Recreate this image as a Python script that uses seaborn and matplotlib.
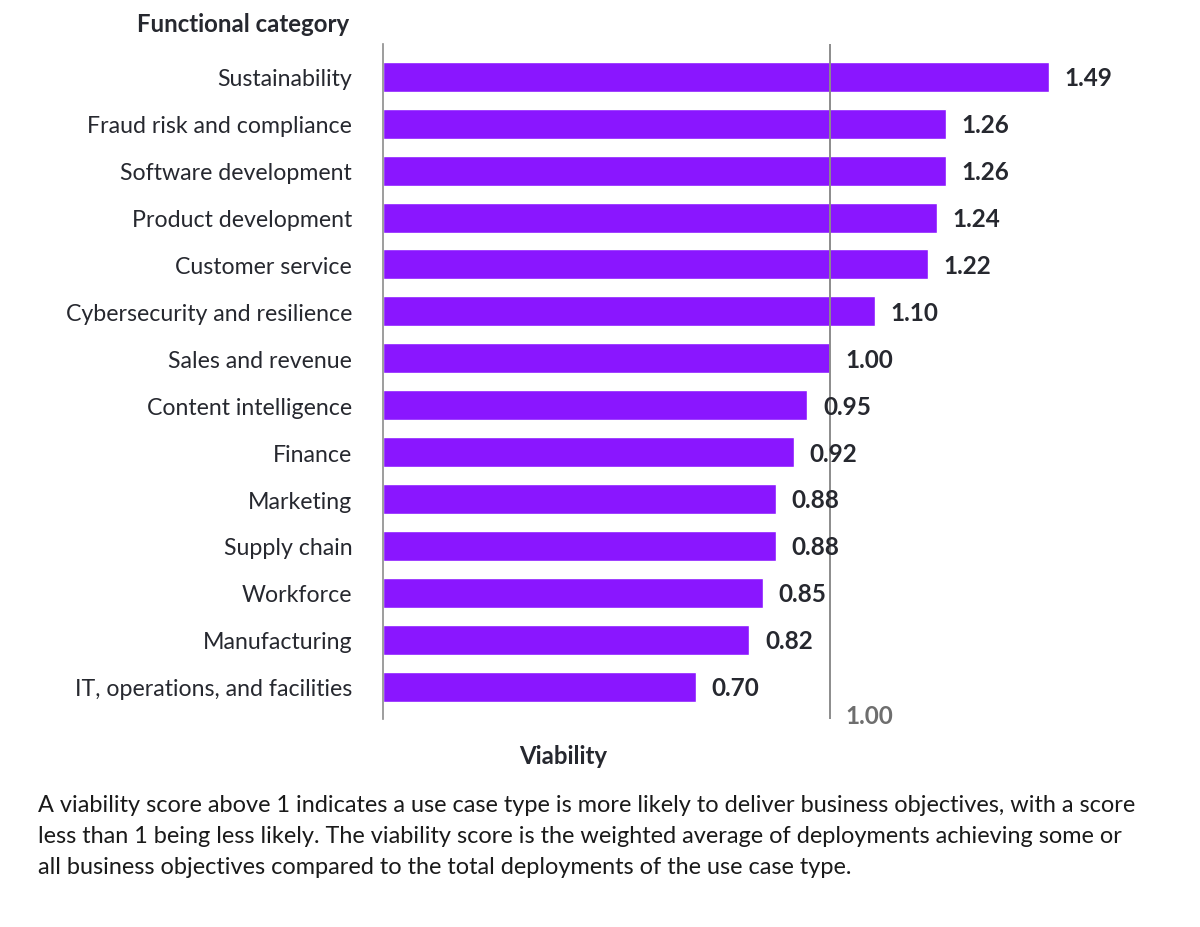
import matplotlib
matplotlib.use("Agg")
import matplotlib.pyplot as plt
import seaborn as sns
import pandas as pd

categories = [
    "Sustainability", "Fraud risk and compliance", "Software development",
    "Product development", "Customer service", "Cybersecurity and resilience",
    "Sales and revenue", "Content intelligence", "Finance", "Marketing",
    "Supply chain", "Workforce", "Manufacturing", "IT, operations, and facilities",
]
values = [1.49, 1.26, 1.26, 1.24, 1.22, 1.10, 1.00, 0.95, 0.92, 0.88, 0.88, 0.85, 0.82, 0.70]
reference_value = 1.00
footnote = ("A viability score above 1 indicates a use case type is more likely to deliver business objectives, with a score\n"
            "less than 1 being less likely. The viability score is the weighted average of deployments achieving some or\n"
            "all business objectives compared to the total deployments of the use case type.")

df = pd.DataFrame({"category": categories, "value": values})

sns.set_theme(style="white")
plt.rcParams["font.family"] = ["Lato", "DejaVu Sans"]

fig = plt.figure(figsize=(12, 9.28), dpi=100)
ax = fig.add_axes([0.319, 0.2241, 0.596, 0.7274])

bar_color = "#8A16FF"
sns.barplot(data=df, y="category", x="value", orient="h", color=bar_color,
            width=0.64, saturation=1, ax=ax, zorder=2)

ax.set_xlim(0, 1.6)
ax.set_ylim(13.69, -0.70)

for i, v in enumerate(values):
    ax.text(v + 0.035, i + 0.02, f"{v:.2f}", va="center", ha="left",
            fontsize=17.5, fontweight="bold", color="#26282f", zorder=4)

ax.axvline(reference_value, color="#8c8c8c", lw=1.4, zorder=3)
ax.text(reference_value + 0.034, 13.62, f"{reference_value:.2f}", ha="left", va="center",
        fontsize=17.5, fontweight="bold", color="#6e6e6e")

for s in ["top", "right", "bottom"]:
    ax.spines[s].set_visible(False)
ax.spines["left"].set_color("#8c8c8c")
ax.spines["left"].set_linewidth(1.2)
ax.set_xticks([])
ax.tick_params(axis="y", length=0, pad=22, labelsize=16.7, labelcolor="#26282f")
ax.set_ylabel("")
ax.set_xlabel("")

fig.text(349 / 1200, 1 - 25 / 928, "Functional category", ha="right", va="center",
         fontsize=17.3, fontweight="bold", color="#26282f")
fig.text(563 / 1200, 1 - 757 / 928, "Viability", ha="center", va="center",
         fontsize=17.3, fontweight="bold", color="#26282f")
fig.text(38 / 1200, 1 - 795 / 928, footnote, ha="left", va="top",
         fontsize=16.9, color="#1a1a1a", linespacing=1.6)

fig.savefig("out.png", dpi=100)
